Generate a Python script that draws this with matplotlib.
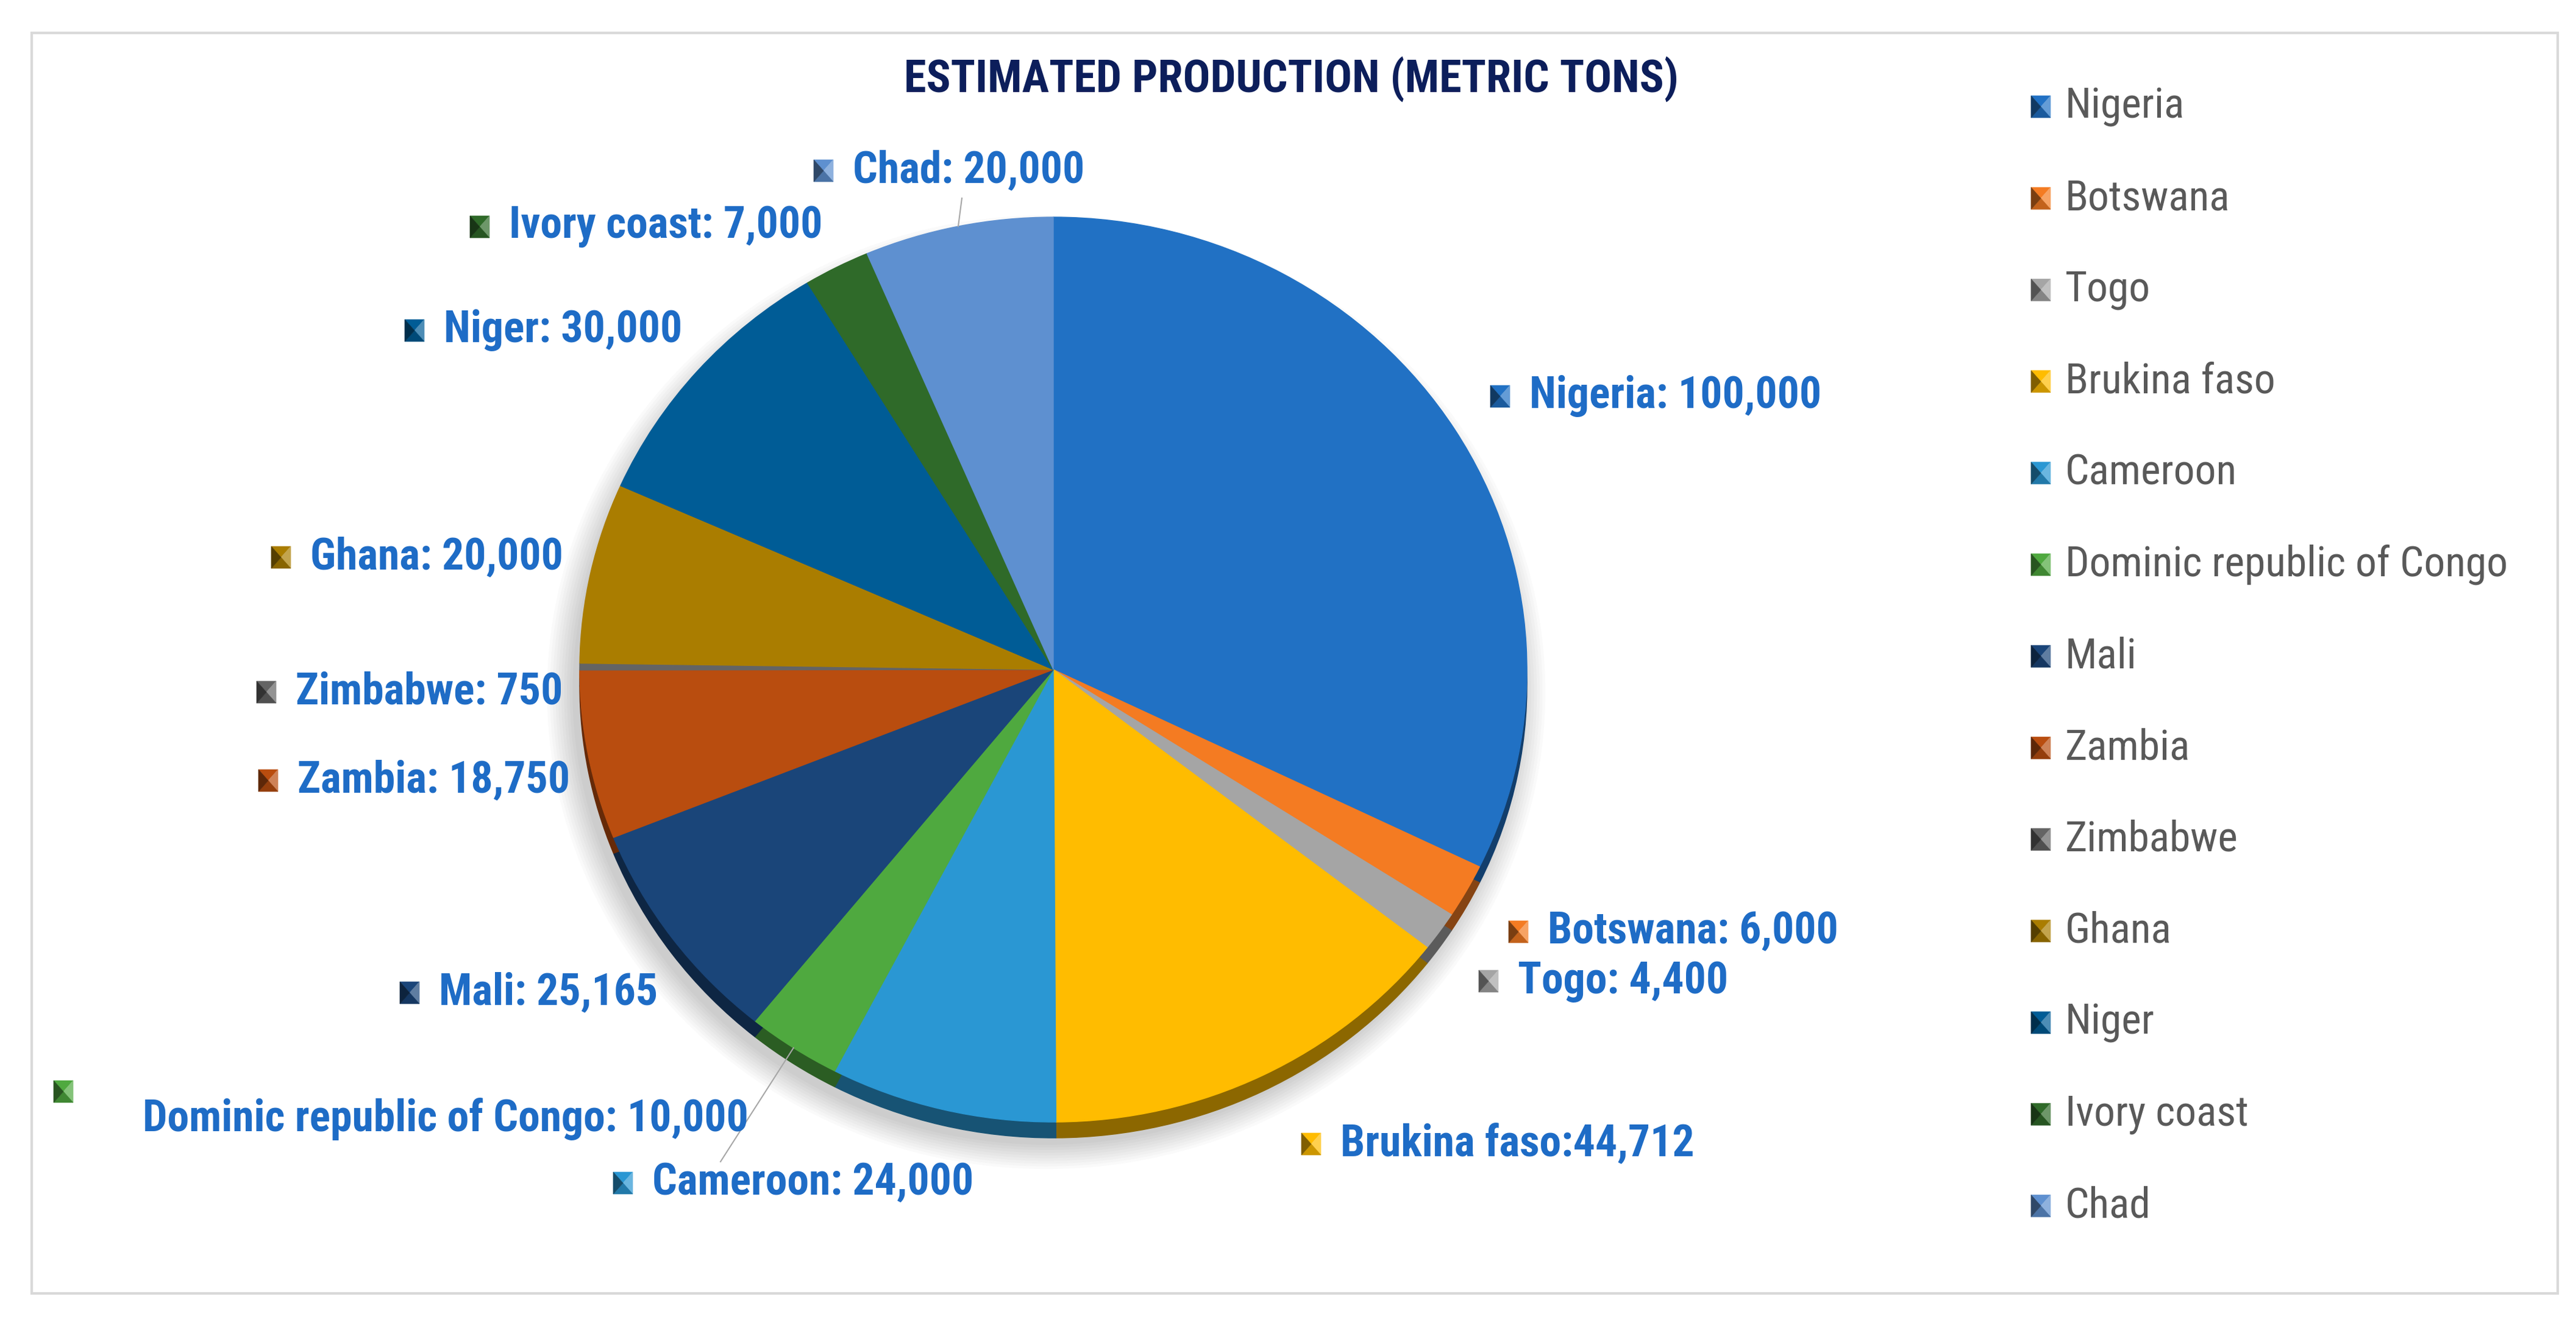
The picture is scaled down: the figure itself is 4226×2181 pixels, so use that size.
import matplotlib
matplotlib.use("Agg")
import matplotlib.pyplot as plt
import matplotlib.colors as mcolors
from matplotlib import font_manager as fm
from matplotlib.patches import Polygon, Rectangle, Ellipse
import numpy as np

# data
countries = ["Nigeria", "Botswana", "Togo", "Brukina faso", "Cameroon",
             "Dominic republic of Congo", "Mali", "Zambia", "Zimbabwe",
             "Ghana", "Niger", "Ivory coast", "Chad"]
production = [100000, 6000, 4400, 44712, 24000, 10000, 25165, 18750, 750,
              20000, 30000, 7000, 20000]
label_sep = [": ", ": ", ": ", ":", ": ", ": ", ": ", ": ", ": ", ": ", ": ", ": ", ": "]
colors = ["#2171C4", "#F47B22", "#A5A5A5", "#FFBC00", "#2A97D3", "#4FA93F",
          "#1A4579", "#B94D0F", "#646464", "#AA7D00", "#005C96", "#2F6A29", "#5E90D0"]
title = "ESTIMATED PRODUCTION (METRIC TONS)"

# pick a narrow font if one is installed
ttf = fm.fontManager.ttflist
avail = {f.name for f in ttf}
stretch = "normal"
if "Roboto Condensed" in avail:
    fam = "Roboto Condensed"
elif "Liberation Sans Narrow" in avail:
    fam = "Liberation Sans Narrow"
elif any(f.name == "DejaVu Sans" and f.stretch == "condensed" for f in ttf):
    fam, stretch = "DejaVu Sans", "condensed"
else:
    fam = "Liberation Sans"
plt.rcParams['font.family'] = [fam, 'DejaVu Sans']

W, H = 4226, 2181
# pie ellipse in pixels
cx, cy, rx, ry = 1728, 1098, 777, 742
depth = 26

# label text positions (left x, center y) and widths in pixels
lab_x = [2509, 2539, 2490, 2199, 1070, 234, 720, 488, 485, 509, 728, 835, 1399]
lab_y = [650, 1528, 1609, 1876, 1940, 1835, 1628, 1280, 1135, 914, 542, 372, 280]
lab_w = [474, 485, 340, 585, 531, 1019, 348, 442, 442, 415, 385, 520, 380]
mk_x = [x - 48 for x in lab_x]
mk_y = list(lab_y)
mk_x[5], mk_y[5] = 104, 1790

fig = plt.figure(figsize=(W / 100, H / 100), dpi=100)
fig.patch.set_facecolor("white")
renderer = fig.canvas.get_renderer()


def fit_size(texts, widths, base, **kw):
    ratios = []
    for s, w in zip(texts, widths):
        t = fig.text(0, 0, s, fontsize=base, fontstretch=stretch, **kw)
        ratios.append(w / t.get_window_extent(renderer).width)
        t.remove()
    return base * float(np.median(ratios))


labels = [f"{n}{label_sep[i]}{production[i]:,}" for i, n in enumerate(countries)]
lab_fs = min(56, fit_size(labels, lab_w, 50, fontweight="bold"))
leg_fs = min(50, fit_size(["Dominic republic of Congo", "Brukina faso", "Zimbabwe"],
                          [652, 356, 300], 44))
title_fs = min(56, fit_size([title], [1272], 50, fontweight="bold"))

# pie axes: unit circle -> ellipse
axp = fig.add_axes([0, 0, 1, 1])
axp.axis("off")

# soft shadow
for k in range(10):
    axp.add_patch(Ellipse((-0.015, -0.05), 2.0 + 0.012 * k, 2.0 + 0.012 * k,
                          facecolor="black", edgecolor="none", alpha=0.018, zorder=0))

dark_cols = [tuple(c * 0.55 for c in mcolors.to_rgb(col)) for col in colors]
side, _ = axp.pie(production, colors=dark_cols, startangle=90, counterclock=False,
                  center=(0, -depth / ry), radius=1.0)
for w in side:
    w.set_edgecolor(w.get_facecolor())
    w.set_linewidth(1)
    w.set_zorder(1)
top, _ = axp.pie(production, colors=colors, startangle=90, counterclock=False,
                 radius=1.0)
for w in top:
    w.set_edgecolor(w.get_facecolor())
    w.set_linewidth(1)
    w.set_zorder(2)
axp.set_aspect("auto")
axp.set_xlim(-cx / rx, (W - cx) / rx)
axp.set_ylim(-(H - cy) / ry, cy / ry)

# overlay axes in pixel coordinates
ax = fig.add_axes([0, 0, 1, 1])
ax.set_xlim(0, W)
ax.set_ylim(H, 0)
ax.axis("off")


def pyramid(xc, yc, col, w=32, h=36):
    base = mcolors.to_rgb(col)
    dark = tuple(c * 0.5 for c in base)
    light = tuple(c + (1 - c) * 0.3 for c in base)
    mid = tuple(c * 0.8 for c in base)
    tl, tr = (xc - w / 2, yc - h / 2), (xc + w / 2, yc - h / 2)
    br, bl = (xc + w / 2, yc + h / 2), (xc - w / 2, yc + h / 2)
    c = (xc, yc)
    for pts, fc in [((tl, tr, c), base), ((tr, br, c), light),
                    ((br, bl, c), mid), ((bl, tl, c), dark)]:
        ax.add_patch(Polygon(pts, closed=True, facecolor=fc, edgecolor=fc, lw=0.5, zorder=5))


# border
ax.add_patch(Rectangle((52, 54), 4196 - 52, 2121 - 54, fill=False,
                       edgecolor="#D9D9D9", lw=3, zorder=1))

ax.text(2118, 130, title, ha="center", va="center", fontsize=title_fs,
        fontweight="bold", fontstretch=stretch, color="#0C1E5B")

# data labels
for i, s in enumerate(labels):
    ax.text(lab_x[i], lab_y[i], s, ha="left", va="center", fontsize=lab_fs,
            fontweight="bold", fontstretch=stretch, color="#1E6CC6", zorder=6)
    pyramid(mk_x[i], mk_y[i], colors[i])

# leader lines for Chad and DRC
total = sum(production)
cum = np.cumsum([0] + production[:-1])
leaders = {12: (1578, 325), 5: (1182, 1905)}
for i, (ex, ey) in leaders.items():
    ang = np.deg2rad(90 - 360 * (cum[i] + production[i] / 2) / total)
    sx = cx + rx * np.cos(ang)
    sy = cy - ry * np.sin(ang)
    ax.plot([sx, ex], [sy, ey], color="#A6A6A6", lw=1.5, zorder=4)

# legend
leg_x, leg_y0, leg_dy = 3388, 175, 150.2
for i, name in enumerate(countries):
    y = leg_y0 + i * leg_dy
    pyramid(leg_x - 40, y, colors[i])
    ax.text(leg_x, y, name, ha="left", va="center", fontsize=leg_fs,
            fontstretch=stretch, color="#595959")

fig.savefig("out.png", dpi=100)
